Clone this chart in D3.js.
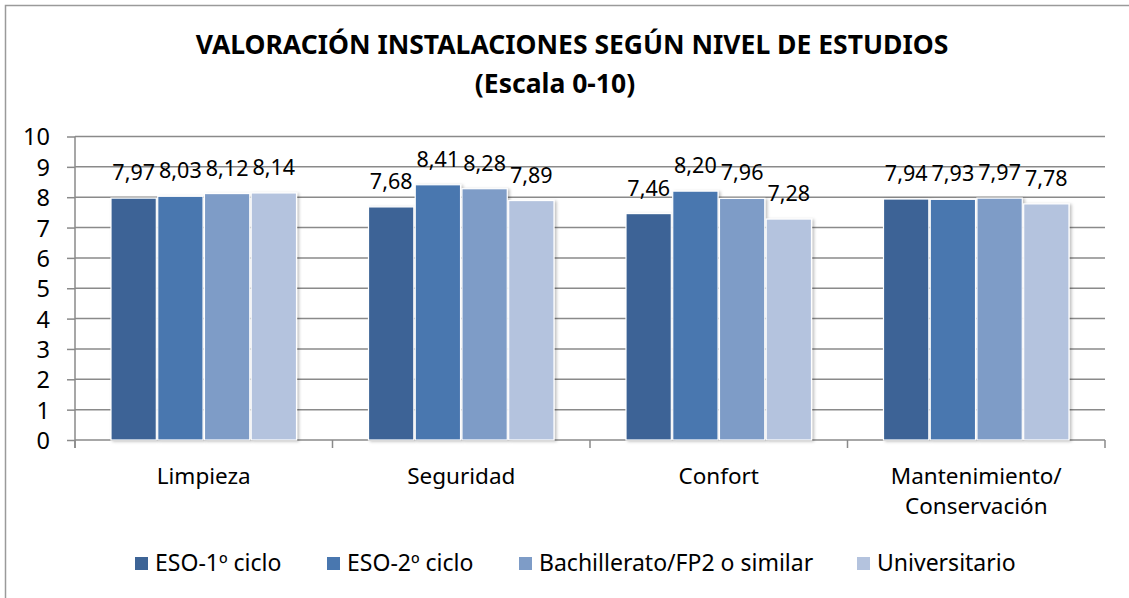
<!DOCTYPE html>
<html>
<head>
<meta charset="utf-8">
<script src="https://cdn.jsdelivr.net/npm/d3@7"></script>
<style>
  body { margin: 0; background: #fff; }
  text { font-family: "Noto Sans", sans-serif; fill: #000; }
</style>
</head>
<body>
<svg id="chart"></svg>
<script>
// Data
var categories = ['Limpieza', 'Seguridad', 'Confort', 'Mantenimiento/\nConservación'];
var seriesNames = ['ESO-1º ciclo', 'ESO-2º ciclo', 'Bachillerato/FP2 o similar', 'Universitario'];
var eso1 = [7.97, 7.68, 7.46, 7.94];
var eso2 = [8.03, 8.41, 8.20, 7.93];
var bachillerato = [8.12, 8.28, 7.96, 7.97];
var universitario = [8.14, 7.89, 7.28, 7.78];
var yTicks = [0, 1, 2, 3, 4, 5, 6, 7, 8, 9, 10];
var colors = ['#3d6496', '#4977af', '#7e9cc7', '#b4c3de'];

var seriesValues = [eso1, eso2, bachillerato, universitario];

var svgWidth = 1129;
var svgHeight = 598;
var margin = {top: 136.5, right: 24, bottom: 158, left: 75};
var chartWidth = svgWidth - margin.left - margin.right;
var chartHeight = svgHeight - margin.top - margin.bottom;

var svg = d3.select('#chart')
    .attr('width', svgWidth)
    .attr('height', svgHeight);

// drop shadow for bars
var filter = svg.append('defs').append('filter')
    .attr('id', 'shadow')
    .attr('x', '-10%').attr('y', '-10%')
    .attr('width', '130%').attr('height', '130%');
filter.append('feDropShadow')
    .attr('dx', 2).attr('dy', 1)
    .attr('stdDeviation', 1.5)
    .attr('flood-color', '#000')
    .attr('flood-opacity', 0.25);

// frame (only the left and top edges show in the picture)
svg.append('rect')
    .attr('x', 5.5).attr('y', 5.5)
    .attr('width', 1140).attr('height', 620)
    .attr('fill', 'none')
    .attr('stroke', '#9a9a9a')
    .attr('stroke-width', 1.5);

// title
svg.append('text')
    .attr('x', 572).attr('y', 54)
    .attr('text-anchor', 'middle')
    .style('font-size', '26.5px').style('font-weight', 'bold')
    .text('VALORACIÓN INSTALACIONES SEGÚN NIVEL DE ESTUDIOS');
svg.append('text')
    .attr('x', 555).attr('y', 93)
    .attr('text-anchor', 'middle')
    .style('font-size', '26.5px').style('font-weight', 'bold')
    .text('(Escala 0-10)');

var chart = svg.append('g')
    .attr('transform', `translate(${margin.left}, ${margin.top})`);

var yScale = d3.scaleLinear()
    .domain([0, 10])
    .range([chartHeight, 0]);

var x0 = d3.scaleBand()
    .domain(categories)
    .range([0, chartWidth])
    .padding(0);

var x1 = d3.scaleBand()
    .domain(seriesNames)
    .range([36, x0.bandwidth() - 36])
    .paddingInner(0.03);

// gridlines + y axis
var yAxis = chart.append('g')
    .call(d3.axisLeft(yScale).tickValues(yTicks).tickSize(8).tickPadding(17).tickFormat(d3.format('d')));
yAxis.select('.domain').attr('stroke', '#8a8a8a').attr('stroke-width', 1.5).attr('d', `M0,0V${chartHeight + 8}`);
yAxis.selectAll('.tick line').attr('stroke', '#8a8a8a').attr('stroke-width', 1.5);
yAxis.selectAll('.tick text').style('font-size', '23.5px').style('font-family', '"Noto Sans", sans-serif').attr('dy', '0.36em');

chart.append('g')
    .selectAll('line')
    .data(yTicks)
    .join('line')
    .attr('x1', 0).attr('x2', chartWidth)
    .attr('y1', (d) => yScale(d)).attr('y2', (d) => yScale(d))
    .attr('stroke', '#8a8a8a')
    .attr('stroke-width', 1.5);

// x axis category ticks
var xAxis = chart.append('g')
    .attr('transform', `translate(0, ${chartHeight})`);
xAxis.selectAll('line')
    .data(d3.range(categories.length + 1))
    .join('line')
    .attr('x1', (d) => d * x0.bandwidth()).attr('x2', (d) => d * x0.bandwidth())
    .attr('y1', 0).attr('y2', 8)
    .attr('stroke', '#8a8a8a')
    .attr('stroke-width', 1.5);

// category labels
categories.forEach(function(cat) {
    var lines = cat.split('\n');
    var label = chart.append('text')
        .attr('x', x0(cat) + x0.bandwidth() / 2)
        .attr('y', chartHeight + 44)
        .attr('text-anchor', 'middle')
        .style('font-size', '22.5px');
    lines.forEach(function(line, i) {
        label.append('tspan')
            .attr('x', x0(cat) + x0.bandwidth() / 2)
            .attr('dy', i == 0 ? 0 : 30)
            .text(line);
    });
});

// bars
var barData = [];
for (let c = 0; c < categories.length; c++) {
    for (let s = 0; s < seriesNames.length; s++) {
        barData.push({category: categories[c], series: seriesNames[s], value: seriesValues[s][c], index: s});
    }
}

chart.append('g')
    .selectAll('rect')
    .data(barData)
    .join('rect')
    .attr('x', (d) => x0(d.category) + x1(d.series))
    .attr('y', (d) => yScale(d.value))
    .attr('width', x1.bandwidth())
    .attr('height', (d) => chartHeight - yScale(d.value))
    .attr('fill', (d) => colors[d.index])
    .attr('stroke', '#fff')
    .attr('stroke-width', 1.2)
    .attr('filter', 'url(#shadow)');

// value labels
var formatValue = (v) => v.toFixed(2).replace('.', ',');
chart.append('g')
    .selectAll('text')
    .data(barData)
    .join('text')
    .attr('x', (d) => x0(d.category) + x1(d.series) + x1.bandwidth() / 2)
    .attr('y', (d) => yScale(d.value) - 18)
    .attr('text-anchor', 'middle')
    .style('font-size', '21.5px')
    .text((d) => formatValue(d.value));

// legend
var legendX = [135, 327, 519, 857];
var legend = svg.append('g');
seriesNames.forEach(function(name, i) {
    legend.append('rect')
        .attr('x', legendX[i]).attr('y', 557)
        .attr('width', 13).attr('height', 13)
        .attr('fill', colors[i]);
    legend.append('text')
        .attr('x', legendX[i] + 20).attr('y', 571)
        .style('font-size', '23px')
        .text(name);
});
</script>
</body>
</html>
